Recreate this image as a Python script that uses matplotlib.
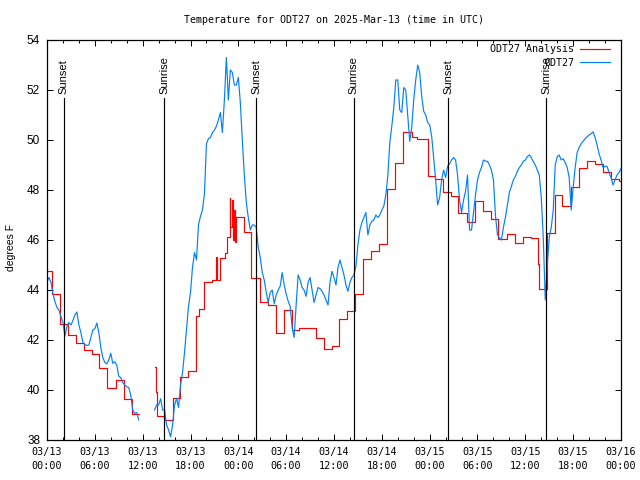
import numpy as np
import matplotlib
matplotlib.use("Agg")
import matplotlib.pyplot as plt
from matplotlib.ticker import MultipleLocator

# --- data (hours since 2025-03-13 00:00 UTC, degrees F) ---

# ODT27 Analysis: hourly step values (time when each value starts)
analysis_t = [0.0, 0.67, 1.6, 2.65, 3.65, 4.65, 5.65, 6.55, 7.55, 8.65, 9.65, 10.65, 11.6,
              13.55, 13.65, 13.75, 14.7, 15.75, 16.7, 17.7, 18.7, 19.1, 19.7, 20.7, 21.15,
              21.3, 21.7, 22.3, 22.6, 22.9, 23.0, 23.15, 23.3, 23.45, 23.6, 23.75, 24.65,
              25.65, 26.7, 27.7, 28.7, 29.7, 30.7, 31.6, 33.7, 34.7, 35.75, 36.6, 37.6,
              38.6, 39.7, 40.6, 41.6, 42.65, 43.65, 44.65, 45.8, 46.4, 47.8, 48.7, 49.7,
              50.7, 51.55, 52.7, 53.7, 54.7, 55.7, 56.6, 57.7, 58.7, 59.7, 60.7, 61.6,
              61.7, 62.7, 63.7, 64.6, 65.7, 66.7, 67.7, 68.7, 69.7, 70.7, 71.7, 72.0]
analysis_v = [44.76, 43.83, 42.64, 42.2, 41.87, 41.6, 41.44, 40.88, 40.08, 40.4, 39.63, 39.04, np.nan,
              40.93, 39.93, 38.96, 38.8, 39.67, 40.5, 40.76, 42.96, 43.23, 44.33, 44.4, 45.33,
              44.4, 45.28, 45.49, 46.13, 47.69, 46.5, 47.6, 46.0, 47.2, 45.93, 46.93, 46.31,
              44.48, 43.53, 43.39, 42.29, 43.2, 42.4, 42.49, 42.07, 41.63, 41.77, 42.83, 43.16,
              43.84, 45.23, 45.56, 45.84, 48.03, 49.07, 50.33, 50.11, 50.04, 48.57, 48.45, 47.93,
              47.76, 47.07, 46.71, 47.55, 47.17, 46.85, 46.05, 46.24, 45.87, 46.11, 46.07, 45.04,
              44.03, 46.29, 47.79, 47.36, 48.13, 48.87, 49.15, 49.04, 48.73, 48.43, 48.37, 48.37]

# ODT27 observations, every 15 minutes from 00:00
obs_v = [
    44.33, 44.5, 44.3, 43.85, 43.53, 43.3, 43.2, 42.93, 42.7, 42.15,
    42.55, 42.7, 42.6, 42.78, 43.0, 43.12, 42.6, 42.3, 41.9, 41.82,
    41.78, 41.8, 42.1, 42.4, 42.45, 42.68, 42.3, 41.7, 41.3, 41.1,
    41.05, 41.2, 41.47, 41.07, 41.13, 41.0, 40.55, 40.5, 40.3, 40.2,
    40.13, 40.1, 39.8, 39.2, 39.07, 39.1, 38.8, np.nan, np.nan, np.nan,
    np.nan, np.nan, np.nan, np.nan, 39.2, 39.4, 39.4, 39.65, 39.2, 39.2,
    38.6, 38.4, 38.13, 38.6, 39.4, 39.67, 39.3, 40.2, 40.7, 41.5,
    42.4, 43.35, 43.9, 44.9, 45.5, 45.2, 46.6, 46.95, 47.2, 47.85,
    49.85, 50.05, 50.1, 50.3, 50.4, 50.55, 50.8, 51.1, 50.3, 51.6,
    53.3, 51.6, 52.8, 52.7, 52.2, 52.2, 52.5, 51.5, 50.0, 48.6,
    47.5, 46.9, 46.4, 46.6, 46.6, 46.5, 45.7, 45.3, 44.7, 44.4,
    43.9, 43.5, 43.9, 44.0, 43.45, 43.8, 44.0, 44.15, 44.7, 44.2,
    43.85, 43.55, 43.35, 42.5, 42.1, 43.4, 44.6, 44.4, 44.1, 44.0,
    43.75, 44.3, 44.5, 44.0, 43.5, 43.8, 44.1, 44.05, 43.95, 43.8,
    43.6, 43.4, 44.3, 44.75, 44.5, 44.2, 44.9, 45.2, 44.9, 44.6,
    44.2, 43.95, 44.3, 44.5, 44.6, 44.95, 45.8, 46.4, 46.7, 46.9,
    47.1, 46.2, 46.6, 46.75, 46.8, 47.0, 46.9, 47.0, 47.2, 47.35,
    47.8, 48.55, 49.9, 50.55, 51.3, 52.4, 52.4, 51.2, 51.1, 52.1,
    52.0, 51.0, 49.95, 50.5, 51.6, 52.4, 53.0, 52.7, 51.75, 51.15,
    51.0, 50.7, 50.6, 50.15, 49.3, 48.4, 47.4, 47.7, 48.4, 48.8,
    48.5, 48.95, 49.05, 49.2, 49.3, 49.2, 48.6, 47.6, 47.1, 47.6,
    47.95, 48.6, 46.4, 46.4, 47.1, 47.8, 48.4, 48.7, 48.9, 49.2,
    49.15, 49.15, 49.0, 48.8, 48.4, 47.0, 46.2, 46.1, 46.0, 46.5,
    46.9, 47.4, 47.9, 48.15, 48.4, 48.55, 48.75, 48.9, 49.0, 49.15,
    49.2, 49.33, 49.4, 49.3, 49.13, 49.0, 48.8, 48.6, 47.7, 46.1,
    43.6, 45.0, 46.1, 46.5, 47.2, 49.0, 49.33, 49.4, 49.2, 49.25,
    49.1, 48.9, 48.5, 47.2, 48.1, 48.9, 49.5, 49.7, 49.85, 49.95,
    50.05, 50.13, 50.2, 50.25, 50.33, 50.1, 49.8, 49.45, 49.2, 48.9,
    48.95, 48.95, 48.7, 48.5, 48.2, 48.4, 48.6, 48.7, 48.85,
]
obs_t = np.arange(len(obs_v)) * 0.25

sun_t = [2.13, 14.68, 26.22, 38.5, 50.3, 62.6]
sun_lbl = ["Sunset", "Sunrise", "Sunset", "Sunrise", "Sunset", "Sunrise"]

tick_t = list(range(0, 73, 6))
tick_lbl = ["03/13\n00:00", "03/13\n06:00", "03/13\n12:00", "03/13\n18:00",
            "03/14\n00:00", "03/14\n06:00", "03/14\n12:00", "03/14\n18:00",
            "03/15\n00:00", "03/15\n06:00", "03/15\n12:00", "03/15\n18:00",
            "03/16\n00:00"]

# --- plot ---
mono = "DejaVu Sans Mono"
sans = "Liberation Sans"

fig = plt.figure(figsize=(6.4, 4.8), dpi=100)
ax = fig.add_axes([47 / 640, 40 / 480, 574 / 640, 400 / 480])

ax.step(analysis_t, analysis_v, where="post", color="#ff0000", lw=0.85, label="ODT27 Analysis")
ax.plot(obs_t, obs_v, color="#0080ff", lw=0.85, label="ODT27")

for t, s in zip(sun_t, sun_lbl):
    ax.plot([t, t], [38, 51.68], color="black", lw=0.85)
    ax.text(t, 51.85, s, rotation=90, ha="center", va="bottom", fontsize=8, family=sans)

ax.set_xlim(0, 72)
ax.set_ylim(38, 54)
ax.set_xticks(tick_t)
ax.set_xticklabels(tick_lbl, family=mono, fontsize=7.3, linespacing=1.45)
ax.xaxis.set_minor_locator(MultipleLocator(2))
ax.yaxis.set_major_locator(MultipleLocator(2))
for lab in ax.get_yticklabels():
    lab.set_family(sans)
    lab.set_fontsize(8.5)
ax.tick_params(which="both", direction="in", top=True, right=True, width=0.7)
ax.tick_params(which="major", length=4)
ax.tick_params(which="minor", length=2.2)
ax.tick_params(axis="x", pad=5)
ax.tick_params(axis="y", pad=5)
for sp in ax.spines.values():
    sp.set_linewidth(0.9)

fig.text(0.522, 1 - 20 / 480, "Temperature for ODT27 on 2025-Mar-13 (time in UTC)",
         ha="center", va="center", family=mono, fontsize=7.2)
fig.text(11 / 640, 1 - 247 / 480, "degrees F", rotation=90, ha="center", va="center",
         family=sans, fontsize=7.5)

ax.legend(loc="upper right", bbox_to_anchor=(0.981, 0.989), frameon=False,
          markerfirst=False, handlelength=3.0, handletextpad=0.6, borderpad=0,
          borderaxespad=0, labelspacing=0.35, prop={"family": mono, "size": 7.2})

fig.savefig("out.png", dpi=100)
